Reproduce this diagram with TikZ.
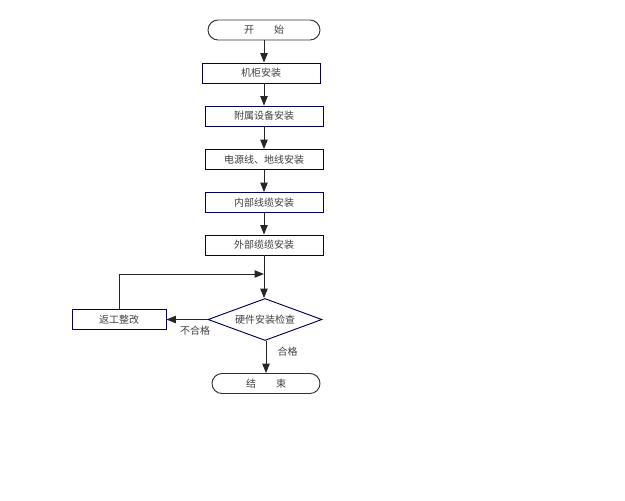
\documentclass[tikz,border=0pt]{standalone}
\usepackage{fontspec}
\newfontfamily\cjk{Noto Sans CJK SC}
\usetikzlibrary{shapes.geometric,arrows.meta}

\begin{document}
\begin{tikzpicture}[x=0.75pt,y=0.75pt,yscale=-1,xscale=1,
    every node/.style={font=\cjk\fontsize{7.5}{9}\selectfont, text=black!75},
    stepbox/.style={draw=blue!35!black, line width=0.7pt, fill=white, minimum width=88.5pt, minimum height=15pt, inner sep=0pt},
    termbox/.style={draw=black!80, line width=0.7pt, fill=white, rounded corners=7.5pt, minimum height=15pt, inner sep=0pt},
    checkbox/.style={draw=blue!35!black, line width=0.7pt, fill=white, diamond, aspect=2.7, minimum width=85.5pt, minimum height=31.5pt, inner sep=0pt},
    flow/.style={draw=black!85, line width=0.7pt, -{Triangle[length=7pt,width=5.5pt]}}]

            \useasboundingbox (0,0) rectangle (625,500);

            % Nodes
            \node [termbox, minimum width=84pt] (start) at (264,30) {开\hspace{2em}始};
            \node [stepbox] (rack)   at (261,73)  {机柜安装};
            \node [stepbox] (aux)    at (264,116) {附属设备安装};
            \node [stepbox] (power)  at (264,159.5) {电源线、地线安装};
            \node [stepbox] (inner)  at (264,202.5) {内部线缆安装};
            \node [stepbox] (outer)  at (264,245) {外部缆缆安装};
            \node [checkbox] (check) at (265,319.5) {硬件安装检查};
            \node [stepbox, minimum width=70.5pt] (rework) at (119,319.5) {返工整改};
            \node [termbox, minimum width=81pt] (finish) at (266,383.5) {结\hspace{2em}束};
            \coordinate (merge) at (264,274);

            % Connectors
            \draw [flow] (start) -- (start.south |- rack.north);
            \draw [flow] (rack.south -| aux) -- (aux);
            \draw [flow] (aux) -- (power);
            \draw [flow] (power) -- (inner);
            \draw [flow] (inner) -- (outer);
            \draw [flow] (outer.south) -- (outer.south |- check.north);
            \draw [flow] (rework.north) |- (merge);
            \draw [flow] (check.west) -- (check.west -| rework.east);
            \draw [flow] (check.south -| finish) -- (finish.north);

            % Labels
            \node [anchor=north] (fail) at (195,321) {不合格};
            \node [anchor=west] (pass) at (273,352) {合格};

\end{tikzpicture}
\end{document}
